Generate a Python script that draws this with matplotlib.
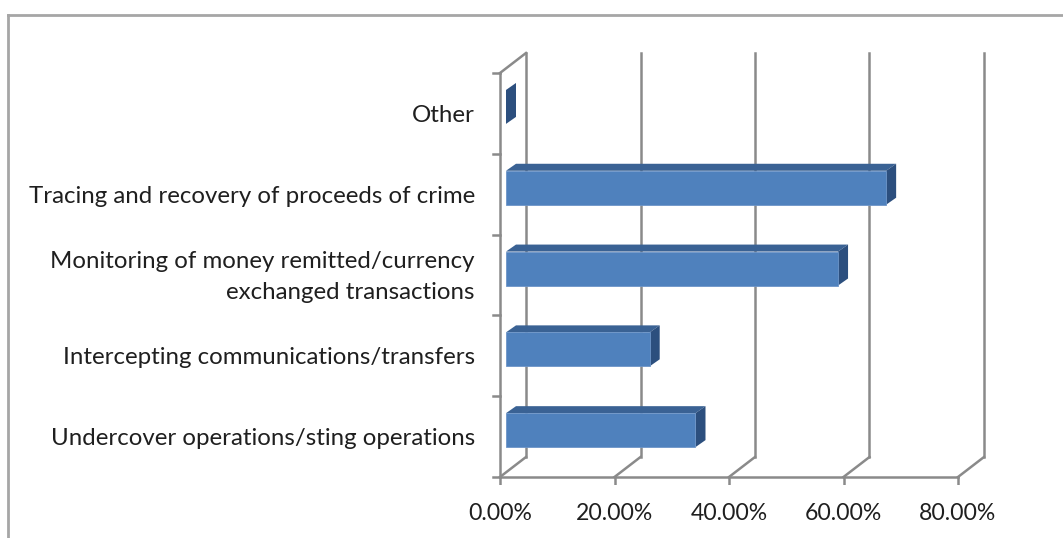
import numpy as np
import matplotlib
matplotlib.use("Agg")
import matplotlib.pyplot as plt
from matplotlib.patches import Polygon
from matplotlib.lines import Line2D
import matplotlib.transforms as mtransforms

plt.rcParams['font.family'] = ['Lato', 'DejaVu Sans']

categories = ['Undercover operations/sting operations',
              'Intercepting communications/transfers',
              'Monitoring of money remitted/currency\nexchanged transactions',
              'Tracing and recovery of proceeds of crime',
              'Other']
values = [33.1, 25.1, 58.0, 66.4, 0.0]
xticks = [0, 20, 40, 60, 80]
xticklabels = ['0.00%', '20.00%', '40.00%', '60.00%', '80.00%']

W, H = 1063, 538
fig = plt.figure(figsize=(W / 100, H / 100), dpi=100)

# pixel geometry of the front plane (from the reference)
px0, pxs = 500.0, 5.725      # x=0 pixel, pixels per percent
py0, pys = 477.0, 80.8       # floor pixel, pixels per category
xlim = (-2, 86)
ylim = (-0.6, 4.8)
left = px0 + pxs * xlim[0]
right = px0 + pxs * xlim[1]
top = py0 - pys * (ylim[1] + 0.5)
bot = py0 - pys * (ylim[0] + 0.5)
ax = fig.add_axes([left / W, (H - bot) / H, (right - left) / W, (bot - top) / H])
ax.set_xlim(*xlim)
ax.set_ylim(*ylim)
ax.axis('off')

# depth of the 3d box (back wall offset)
dx, dy = 26 / pxs, 20 / pys
grid_c = '#8a8a8a'
lw = 1.8
y_floor, y_top = -0.5, len(categories) - 0.5

# back wall gridlines + floor diagonals
for x in xticks:
    ax.add_line(Line2D([x + dx, x + dx], [y_floor + dy, y_top + dy], color=grid_c, lw=lw))
    ax.add_line(Line2D([x, x + dx], [y_floor, y_floor + dy], color=grid_c, lw=lw))
    ax.add_line(Line2D([x, x], [y_floor, y_floor - 0.1], color=grid_c, lw=lw))
# front floor edge and left wall
ax.add_line(Line2D([0, xticks[-1]], [y_floor, y_floor], color=grid_c, lw=lw))
ax.add_line(Line2D([0, 0], [y_floor, y_top], color=grid_c, lw=lw))
ax.add_line(Line2D([0, dx], [y_top, y_top + dy], color=grid_c, lw=lw))
for k in range(len(categories) + 1):
    yb = k - 0.5
    ax.add_line(Line2D([0, -1.3], [yb, yb], color=grid_c, lw=lw))

# bars
bx0, by0 = 6 / pxs, 0.08
bdx, bdy = 10 / pxs, 7 / pys
hh = 0.21
front_c, top_c, side_c = '#4f81bd', '#3a6294', '#2c4f7e'
for i, v in enumerate(values):
    x0, x1 = bx0, bx0 + v
    y0, y1 = i + by0 - hh, i + by0 + hh
    ax.add_patch(Polygon([(x0, y1), (x0 + bdx, y1 + bdy), (x1 + bdx, y1 + bdy), (x1, y1)],
                         closed=True, fc=top_c, ec='none', zorder=3))
    ax.add_patch(Polygon([(x1, y0), (x1, y1), (x1 + bdx, y1 + bdy), (x1 + bdx, y0 + bdy)],
                         closed=True, fc=side_c, ec='none', zorder=3))
    if v > 0:
        ax.add_patch(Polygon([(x0, y0), (x0, y1), (x1, y1), (x1, y0)],
                             closed=True, fc=front_c, ec='#6d95c8', lw=0.6, zorder=4))

txt_c = '#1f1f1f'
lab_tr = mtransforms.offset_copy(ax.transData, fig=fig, x=-25, y=-2, units='dots')
for i, c in enumerate(categories):
    ax.text(0, i, c, transform=lab_tr, ha='right', va='center', fontsize=17.3,
            color=txt_c, linespacing=1.62)
tick_tr = mtransforms.offset_copy(ax.transData, fig=fig, x=0, y=-37, units='dots')
for x, lab in zip(xticks, xticklabels):
    ax.text(x, y_floor, lab, transform=tick_tr, ha='center', va='center', fontsize=16.6,
            color=txt_c)

# chart area border
bc = '#a6a6a6'
fig.add_artist(Line2D([8 / W, 1.0], [1 - 15 / H, 1 - 15 / H], transform=fig.transFigure, color=bc, lw=2))
fig.add_artist(Line2D([8 / W, 8 / W], [0, 1 - 15 / H], transform=fig.transFigure, color=bc, lw=2))

fig.savefig('out.png', dpi=100)
